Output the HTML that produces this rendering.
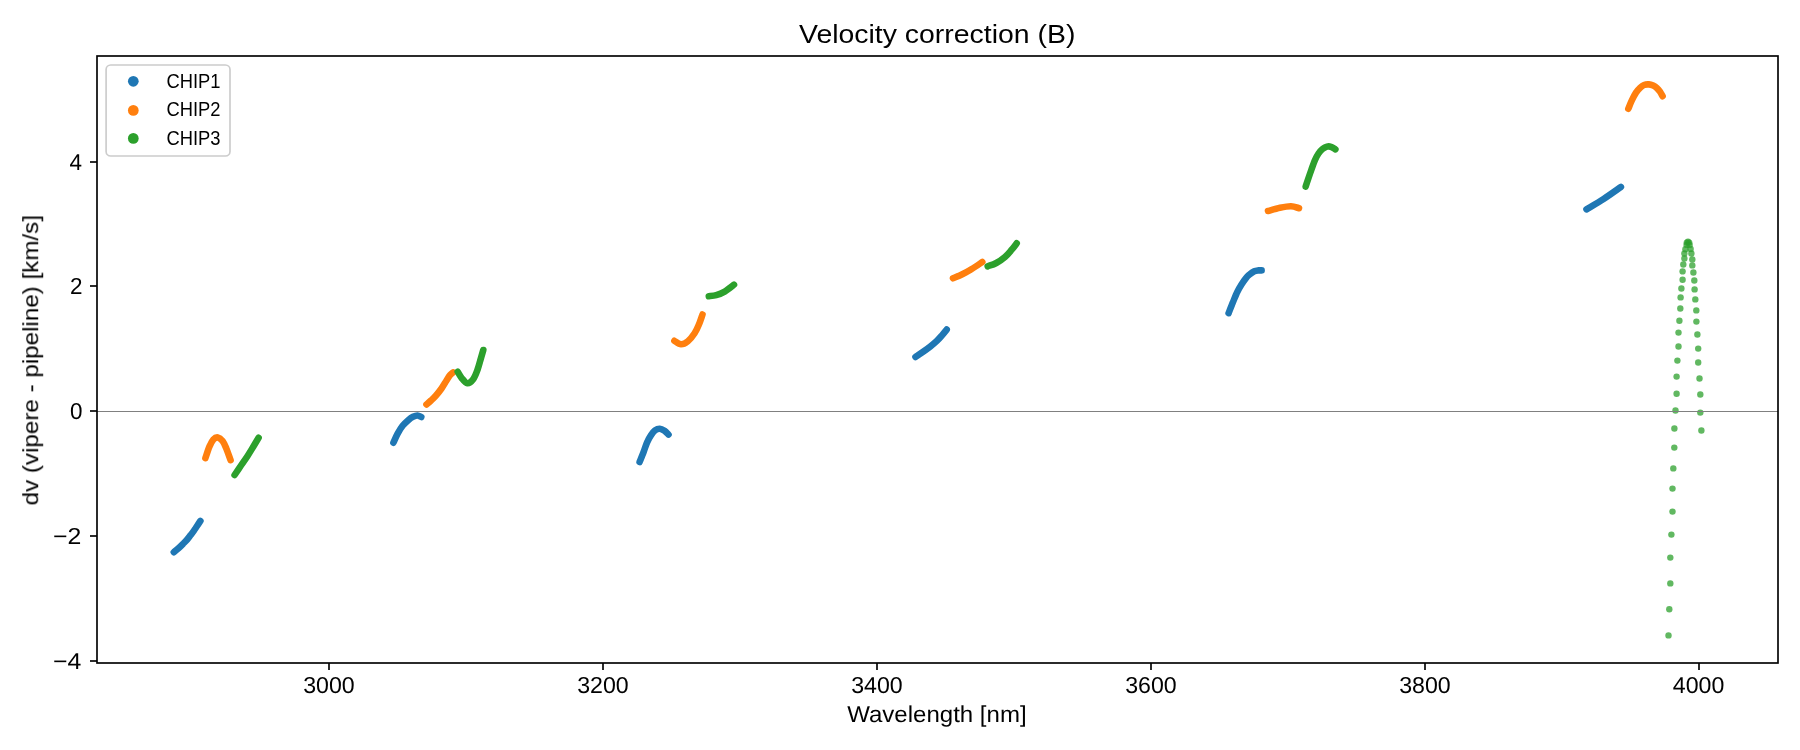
<!DOCTYPE html><html><head><meta charset="utf-8"><title>Velocity correction (B)</title><style>html,body{margin:0;padding:0;background:#fff;}svg{display:block;}text{font-family:"Liberation Sans",sans-serif;fill:#000;}</style></head><body>
<svg width="1800" height="750" viewBox="0 0 1800 750">
<rect width="1800" height="750" fill="#fff"/>
<g opacity="0.999">
<g fill="none" stroke-width="6.6" stroke-linecap="round" stroke-linejoin="round">
<path d="M173.80,552.20C174.58,551.55 176.93,549.72 178.50,548.30C180.07,546.88 181.75,545.17 183.20,543.70C184.65,542.23 185.97,540.93 187.20,539.50C188.43,538.07 189.50,536.55 190.60,535.10C191.70,533.65 192.78,532.23 193.80,530.80C194.82,529.37 195.60,528.15 196.70,526.50C197.80,524.85 199.78,521.83 200.40,520.90" stroke="#1f77b4"/>
<path d="M393.40,442.70C394.08,441.23 395.97,436.72 397.50,433.90C399.03,431.08 400.77,428.13 402.60,425.80C404.43,423.47 406.77,421.40 408.50,419.90C410.23,418.40 411.50,417.53 413.00,416.80C414.50,416.07 416.12,415.47 417.50,415.50C418.88,415.53 420.67,416.75 421.30,417.00" stroke="#1f77b4"/>
<path d="M639.60,462.00C640.27,460.33 642.35,455.28 643.60,452.00C644.85,448.72 645.88,445.08 647.10,442.30C648.32,439.52 649.58,437.28 650.90,435.30C652.22,433.32 653.52,431.50 655.00,430.40C656.48,429.30 658.22,428.63 659.80,428.70C661.38,428.77 663.05,429.82 664.50,430.80C665.95,431.78 667.83,433.97 668.50,434.60" stroke="#1f77b4"/>
<path d="M915.50,356.90C916.65,356.13 919.95,354.02 922.40,352.30C924.85,350.58 927.83,348.45 930.20,346.60C932.57,344.75 934.67,343.03 936.60,341.20C938.53,339.37 940.12,337.53 941.80,335.60C943.48,333.67 945.88,330.60 946.70,329.60" stroke="#1f77b4"/>
<path d="M1228.60,313.20C1229.32,311.38 1231.43,305.88 1232.90,302.30C1234.37,298.72 1235.88,294.80 1237.40,291.70C1238.92,288.60 1240.60,285.93 1242.00,283.70C1243.40,281.47 1244.60,279.78 1245.80,278.30C1247.00,276.82 1247.78,275.97 1249.20,274.80C1250.62,273.63 1252.75,272.03 1254.30,271.30C1255.85,270.57 1257.28,270.55 1258.50,270.40C1259.72,270.25 1261.08,270.40 1261.60,270.40" stroke="#1f77b4"/>
<path d="M1586.50,209.30C1589.35,207.58 1597.87,202.72 1603.60,199.00C1609.33,195.28 1618.02,189.00 1620.90,187.00" stroke="#1f77b4"/>
<path d="M205.40,458.20C206.07,456.27 208.07,449.73 209.40,446.60C210.73,443.47 212.00,440.93 213.40,439.40C214.80,437.87 216.27,437.13 217.80,437.40C219.33,437.67 221.20,439.20 222.60,441.00C224.00,442.80 224.87,445.00 226.20,448.20C227.53,451.40 229.87,458.20 230.60,460.20" stroke="#ff7f0e"/>
<path d="M426.50,404.40C427.25,403.75 429.42,401.98 431.00,400.50C432.58,399.02 434.25,397.50 436.00,395.50C437.75,393.50 439.75,391.00 441.50,388.50C443.25,386.00 445.08,382.72 446.50,380.50C447.92,378.28 448.90,376.55 450.00,375.20C451.10,373.85 452.58,372.87 453.10,372.40" stroke="#ff7f0e"/>
<path d="M674.40,340.80C675.50,341.38 678.75,344.23 681.00,344.30C683.25,344.37 685.63,343.03 687.90,341.20C690.17,339.37 692.75,336.12 694.60,333.30C696.45,330.48 697.68,327.43 699.00,324.30C700.32,321.17 701.92,316.13 702.50,314.50" stroke="#ff7f0e"/>
<path d="M953.00,278.30C954.55,277.63 959.18,275.85 962.30,274.30C965.42,272.75 968.37,271.05 971.70,269.00C975.03,266.95 980.53,263.17 982.30,262.00" stroke="#ff7f0e"/>
<path d="M1268.00,211.00C1270.00,210.47 1276.17,208.58 1280.00,207.80C1283.83,207.02 1287.83,206.23 1291.00,206.30C1294.17,206.37 1297.67,207.88 1299.00,208.20" stroke="#ff7f0e"/>
<path d="M1628.30,108.80C1628.87,107.43 1630.42,103.30 1631.70,100.60C1632.98,97.90 1634.57,94.77 1636.00,92.60C1637.43,90.43 1638.97,88.87 1640.30,87.60C1641.63,86.33 1642.58,85.53 1644.00,85.00C1645.42,84.47 1647.27,84.30 1648.80,84.40C1650.33,84.50 1651.87,85.00 1653.20,85.60C1654.53,86.20 1655.67,87.00 1656.80,88.00C1657.93,89.00 1659.03,90.23 1660.00,91.60C1660.97,92.97 1662.17,95.43 1662.60,96.20" stroke="#ff7f0e"/>
<path d="M234.60,475.00C235.67,473.42 238.87,468.63 241.00,465.50C243.13,462.37 245.33,459.37 247.40,456.20C249.47,453.03 251.53,449.57 253.40,446.50C255.27,443.43 257.73,439.25 258.60,437.80" stroke="#2ca02c"/>
<path d="M457.70,371.80C458.33,372.80 459.90,375.90 461.50,377.80C463.10,379.70 465.35,382.97 467.30,383.20C469.25,383.43 471.48,381.48 473.20,379.20C474.92,376.92 476.30,373.03 477.60,369.50C478.90,365.97 480.05,361.25 481.00,358.00C481.95,354.75 482.92,351.33 483.30,350.00" stroke="#2ca02c"/>
<path d="M708.80,296.20C710.03,296.03 713.55,295.97 716.20,295.20C718.85,294.43 721.73,293.35 724.70,291.60C727.67,289.85 732.45,285.85 734.00,284.70" stroke="#2ca02c"/>
<path d="M987.70,266.30C989.13,265.75 993.42,264.55 996.30,263.00C999.18,261.45 1002.43,259.22 1005.00,257.00C1007.57,254.78 1009.75,251.98 1011.70,249.70C1013.65,247.42 1015.87,244.37 1016.70,243.30" stroke="#2ca02c"/>
<path d="M1305.70,186.50C1306.08,185.33 1307.07,182.25 1308.00,179.50C1308.93,176.75 1310.13,173.25 1311.30,170.00C1312.47,166.75 1313.80,162.75 1315.00,160.00C1316.20,157.25 1317.25,155.33 1318.50,153.50C1319.75,151.67 1321.08,150.15 1322.50,149.00C1323.92,147.85 1325.58,146.97 1327.00,146.60C1328.42,146.23 1329.60,146.35 1331.00,146.80C1332.40,147.25 1334.67,148.88 1335.40,149.30" stroke="#2ca02c"/>
</g>
<g fill="#2ca02c" fill-opacity="0.75">
<circle cx="1688" cy="241.7" r="3.2"/>
<circle cx="1686.8" cy="242.6" r="3.2"/>
<circle cx="1689.2" cy="242.6" r="3.2"/>
<circle cx="1686.6" cy="244.9" r="3.2"/>
<circle cx="1689.6" cy="244.9" r="3.2"/>
<circle cx="1685.4" cy="249.3" r="3.2"/>
<circle cx="1684.4" cy="253.5" r="3.2"/>
<circle cx="1684.4" cy="258.5" r="3.2"/>
<circle cx="1683.3" cy="264.5" r="3.2"/>
<circle cx="1682.6" cy="271.4" r="3.2"/>
<circle cx="1682.6" cy="279.7" r="3.2"/>
<circle cx="1681.4" cy="288.5" r="3.2"/>
<circle cx="1680.6" cy="297.4" r="3.2"/>
<circle cx="1680.3" cy="308.5" r="3.2"/>
<circle cx="1679.4" cy="320.7" r="3.2"/>
<circle cx="1678.5" cy="332.6" r="3.2"/>
<circle cx="1678.5" cy="346.5" r="3.2"/>
<circle cx="1677.4" cy="360.6" r="3.2"/>
<circle cx="1676.6" cy="376.6" r="3.2"/>
<circle cx="1676.6" cy="393.7" r="3.2"/>
<circle cx="1675.5" cy="410.5" r="3.2"/>
<circle cx="1674.4" cy="428.5" r="3.2"/>
<circle cx="1674.3" cy="447.6" r="3.2"/>
<circle cx="1673.3" cy="468.4" r="3.2"/>
<circle cx="1672.5" cy="488.6" r="3.2"/>
<circle cx="1672.5" cy="511.6" r="3.2"/>
<circle cx="1671.4" cy="534.6" r="3.2"/>
<circle cx="1670.3" cy="557.6" r="3.2"/>
<circle cx="1670.3" cy="583.4" r="3.2"/>
<circle cx="1669.3" cy="609.3" r="3.2"/>
<circle cx="1668.5" cy="635.4" r="3.2"/>
<circle cx="1690.6" cy="248.9" r="3.2"/>
<circle cx="1691.4" cy="253.5" r="3.2"/>
<circle cx="1692.3" cy="259.4" r="3.2"/>
<circle cx="1692.3" cy="265.4" r="3.2"/>
<circle cx="1693.4" cy="272.5" r="3.2"/>
<circle cx="1694.3" cy="280.5" r="3.2"/>
<circle cx="1694.6" cy="289.4" r="3.2"/>
<circle cx="1695.3" cy="299.4" r="3.2"/>
<circle cx="1696.3" cy="310.4" r="3.2"/>
<circle cx="1696.4" cy="321.6" r="3.2"/>
<circle cx="1697.4" cy="334.5" r="3.2"/>
<circle cx="1698.2" cy="348.6" r="3.2"/>
<circle cx="1698.2" cy="362.5" r="3.2"/>
<circle cx="1699.5" cy="378.5" r="3.2"/>
<circle cx="1700.3" cy="394.5" r="3.2"/>
<circle cx="1700.3" cy="412.6" r="3.2"/>
<circle cx="1701.4" cy="430.5" r="3.2"/>
</g>
<line x1="97" y1="411.5" x2="1778" y2="411.5" stroke="#808080" stroke-width="1"/>
<rect x="97" y="56" width="1681" height="607" fill="none" stroke="#000" stroke-width="1.67"/>
<line x1="329.00" y1="663" x2="329.00" y2="670" stroke="#000" stroke-width="1.67"/>
<text x="303.20" y="692.60" font-size="23.0" textLength="51.50" lengthAdjust="spacingAndGlyphs" text-rendering="geometricPrecision">3000</text>
<line x1="603.00" y1="663" x2="603.00" y2="670" stroke="#000" stroke-width="1.67"/>
<text x="577.20" y="692.60" font-size="23.0" textLength="51.50" lengthAdjust="spacingAndGlyphs" text-rendering="geometricPrecision">3200</text>
<line x1="877.00" y1="663" x2="877.00" y2="670" stroke="#000" stroke-width="1.67"/>
<text x="851.20" y="692.60" font-size="23.0" textLength="51.50" lengthAdjust="spacingAndGlyphs" text-rendering="geometricPrecision">3400</text>
<line x1="1151.00" y1="663" x2="1151.00" y2="670" stroke="#000" stroke-width="1.67"/>
<text x="1125.20" y="692.60" font-size="23.0" textLength="51.50" lengthAdjust="spacingAndGlyphs" text-rendering="geometricPrecision">3600</text>
<line x1="1425.00" y1="663" x2="1425.00" y2="670" stroke="#000" stroke-width="1.67"/>
<text x="1399.20" y="692.60" font-size="23.0" textLength="51.50" lengthAdjust="spacingAndGlyphs" text-rendering="geometricPrecision">3800</text>
<line x1="1699.00" y1="663" x2="1699.00" y2="670" stroke="#000" stroke-width="1.67"/>
<text x="1672.80" y="692.60" font-size="23.0" textLength="51.50" lengthAdjust="spacingAndGlyphs" text-rendering="geometricPrecision">4000</text>
<line x1="90" y1="661" x2="97" y2="661" stroke="#000" stroke-width="1.67"/>
<text x="52.90" y="668.67" font-size="23.0" textLength="28.30" lengthAdjust="spacingAndGlyphs" text-rendering="geometricPrecision">−4</text>
<line x1="90" y1="536" x2="97" y2="536" stroke="#000" stroke-width="1.67"/>
<text x="52.90" y="543.81" font-size="23.0" textLength="28.30" lengthAdjust="spacingAndGlyphs" text-rendering="geometricPrecision">−2</text>
<line x1="90" y1="411" x2="97" y2="411" stroke="#000" stroke-width="1.67"/>
<text x="70.00" y="418.95" font-size="23.0" textLength="12.50" lengthAdjust="spacingAndGlyphs" text-rendering="geometricPrecision">0</text>
<line x1="90" y1="286" x2="97" y2="286" stroke="#000" stroke-width="1.67"/>
<text x="70.00" y="294.09" font-size="23.0" textLength="12.50" lengthAdjust="spacingAndGlyphs" text-rendering="geometricPrecision">2</text>
<line x1="90" y1="162" x2="97" y2="162" stroke="#000" stroke-width="1.67"/>
<text x="69.40" y="170.20" font-size="23.0" textLength="12.50" lengthAdjust="spacingAndGlyphs" text-rendering="geometricPrecision">4</text>
<text x="799.00" y="42.80" font-size="26" textLength="276.40" lengthAdjust="spacingAndGlyphs">Velocity correction (B)</text>
<text x="847.20" y="721.70" font-size="23.0" textLength="179.40" lengthAdjust="spacingAndGlyphs" text-rendering="geometricPrecision">Wavelength [nm]</text>
<text transform="translate(38.2,505.4) rotate(-90)" x="0" y="0" font-size="22.5" textLength="290.4" lengthAdjust="spacingAndGlyphs">dv (vipere - pipeline) [km/s]</text>
<rect x="106.1" y="65.0" width="123.9" height="91.0" rx="4.6" ry="4.6" fill="#fff" fill-opacity="0.8" stroke="#cccccc" stroke-width="1.67"/>
<circle cx="133.3" cy="81.3" r="5.35" fill="#1f77b4"/>
<text x="166.50" y="87.80" font-size="20" textLength="54.00" lengthAdjust="spacingAndGlyphs">CHIP1</text>
<circle cx="133.3" cy="110.4" r="5.35" fill="#ff7f0e"/>
<text x="166.50" y="115.70" font-size="20" textLength="54.00" lengthAdjust="spacingAndGlyphs">CHIP2</text>
<circle cx="133.3" cy="138.4" r="5.35" fill="#2ca02c"/>
<text x="166.50" y="144.70" font-size="20" textLength="54.00" lengthAdjust="spacingAndGlyphs">CHIP3</text>
</g></svg></body></html>
